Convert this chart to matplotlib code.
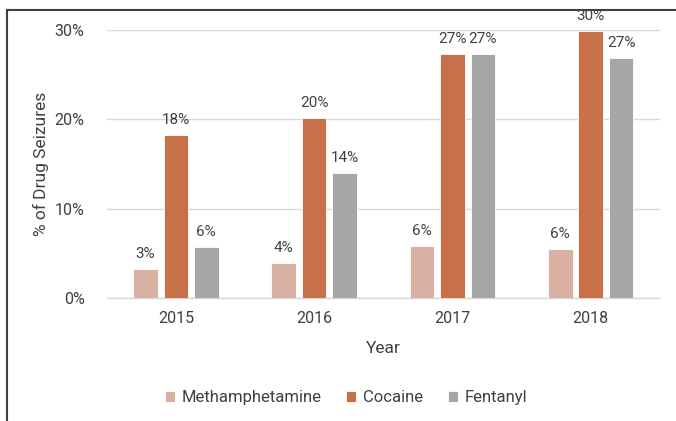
import numpy as np
import matplotlib
matplotlib.use("Agg")
import matplotlib.pyplot as plt
from matplotlib.lines import Line2D
from matplotlib.ticker import PercentFormatter

plt.rcParams["font.family"] = ["Roboto", "DejaVu Sans"]

# data (% of drug seizures)
years = ["2015", "2016", "2017", "2018"]
meth = [3.3, 3.9, 5.8, 5.5]
cocaine = [18.2, 20.1, 27.3, 29.9]
fentanyl = [5.7, 14.0, 27.3, 26.9]
series_names = ["Methamphetamine", "Cocaine", "Fentanyl"]
colors = ["#D8B1A2", "#C8704A", "#A6A6A6"]

fig = plt.figure(figsize=(6.76, 4.21), dpi=100)
ax = fig.add_axes([0.158, 0.292, 0.818, 0.637])

x = np.arange(len(years))
width = 0.178
step = 0.22
for i, (vals, name, c) in enumerate(zip([meth, cocaine, fentanyl], series_names, colors)):
    pos = x + (i - 1) * step
    ax.bar(pos, vals, width=width, color=c, label=name,
           edgecolor="white", linewidth=0.6, zorder=3)
    for xp, v in zip(pos, vals):
        ax.text(xp, v + 0.9, f"{v:.0f}%", ha="center", va="bottom",
                fontsize=11, color="#404040", clip_on=False)

ax.set_xlim(-0.5, len(years) - 0.5)
ax.set_ylim(0, 30)
ax.set_yticks([0, 10, 20, 30])
ax.yaxis.set_major_formatter(PercentFormatter(decimals=0))
ax.set_xticks(x)
ax.set_xticklabels(years)
ax.grid(axis="y", color="#D9D9D9", linewidth=1, zorder=0)
for s in ["top", "right", "left"]:
    ax.spines[s].set_visible(False)
ax.spines["bottom"].set_color("#D9D9D9")
ax.spines["bottom"].set_linewidth(1)
ax.tick_params(axis="both", length=0, labelsize=11.5, colors="#404040")
ax.tick_params(axis="x", pad=9)
ax.tick_params(axis="y", pad=16)

ax.set_xlabel("Year", fontsize=12.5, color="#404040", labelpad=11)
ax.set_ylabel("% of Drug Seizures", fontsize=12.5, color="#404040", labelpad=4)

fig.legend(loc="center", bbox_to_anchor=(0.512, 0.055), ncol=3, frameon=False,
           fontsize=12, handlelength=0.6, handleheight=0.6, handletextpad=0.4,
           columnspacing=1.5, labelcolor="#404040")

# outer frame (top and left edges only visible)
fig.add_artist(Line2D([0.011, 0.011], [0.0, 0.977], color="#404040", lw=1.5,
                      transform=fig.transFigure))
fig.add_artist(Line2D([0.011, 1.0], [0.977, 0.977], color="#404040", lw=1.5,
                      transform=fig.transFigure))

fig.savefig("out.png", dpi=100)
